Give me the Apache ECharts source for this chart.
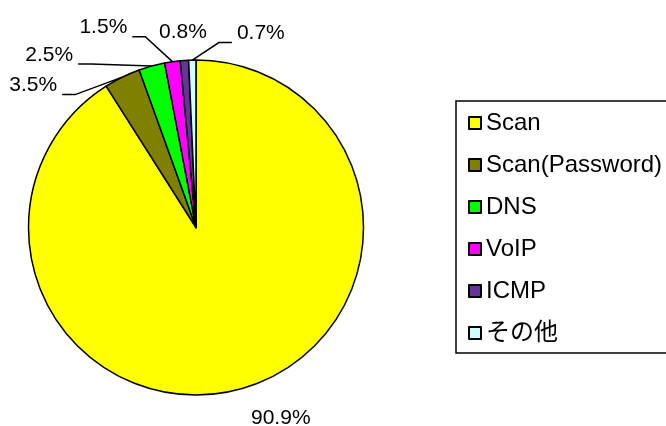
<!DOCTYPE html>
<html>
<head>
<meta charset="utf-8">
<script src="https://cdn.jsdelivr.net/npm/echarts@6/dist/echarts.min.js"></script>
<style>
html,body{margin:0;padding:0;background:#fff;}
#chart{width:666px;height:426px;}
</style>
</head>
<body>
<div id="chart"></div>
<script>
const categories = ['Scan', 'Scan(Password)', 'DNS', 'VoIP', 'ICMP', 'その他'];
const shares = [90.9, 3.5, 2.5, 1.5, 0.8, 0.7];
const colors = ['#FFFF00', '#808000', '#00FF00', '#FF00FF', '#663399', '#CCFFFF'];
// label offsets (px) from each slice's outer mid-point
const labelOffsets = [[38, 30], [-89, 8.5], [-102.5, -11], [-69, -34], [-1.5, -28.5], [68.5, -26.5]];
const showLine = [false, true, true, true, false, true];

const CX = 196, CY = 227.5, R = 167.5;
const total = shares.reduce((a, b) => a + b, 0);
const starts = [];
let acc = 0;
shares.forEach(v => { starts.push(acc); acc += v; });

function anchorOf(i) {
  const mid = (starts[i] + shares[i] / 2) / total * Math.PI * 2;
  return [CX + R * Math.sin(mid), CY - R * Math.cos(mid)];
}

const chart = echarts.init(document.getElementById('chart'), null, {renderer: 'canvas'});
const labelFont = '"Liberation Sans", Arial, sans-serif';

chart.setOption({
  backgroundColor: '#fff',
  animation: false,
  legend: {
    orient: 'vertical',
    left: 456,
    top: 101,
    padding: [10, 80, 8, 12],
    itemGap: 18,
    itemWidth: 12,
    itemHeight: 12,
    icon: 'rect',
    borderColor: '#000',
    borderWidth: 1.5,
    selectedMode: false,
    data: categories,
    textStyle: {
      fontFamily: '"Liberation Sans", "Noto Sans CJK JP", sans-serif',
      fontSize: 24,
      lineHeight: 24,
      color: '#000'
    }
  },
  series: [{
    type: 'pie',
    center: [CX, CY],
    radius: R,
    startAngle: 90,
    clockwise: true,
    avoidLabelOverlap: false,
    silent: true,
    itemStyle: {borderColor: '#000', borderWidth: 1.5},
    label: {
      show: true,
      position: 'outside',
      formatter: p => shares[p.dataIndex].toFixed(1) + '%',
      fontFamily: labelFont,
      fontSize: 21,
      color: '#000'
    },
    labelLine: {show: true, lineStyle: {color: '#000', width: 1.5}},
    labelLayout: function (params) {
      const i = params.dataIndex;
      const a = anchorOf(i);
      const lx = a[0] + labelOffsets[i][0];
      const ly = a[1] + labelOffsets[i][1];
      const side = lx < a[0] ? -1 : 1;
      const halfW = params.labelRect.width / 2;
      const end = [lx - side * (halfW + 5), ly + 9];
      const elbow = [end[0] - side * 13, end[1]];
      return {
        x: lx, y: ly, align: 'center', verticalAlign: 'middle',
        labelLinePoints: [a, elbow, end]
      };
    },
    data: categories.map((name, i) => ({
      name: name,
      value: shares[i],
      itemStyle: {color: colors[i]},
      labelLine: {show: showLine[i]}
    }))
  }]
});
</script>
</body>
</html>
